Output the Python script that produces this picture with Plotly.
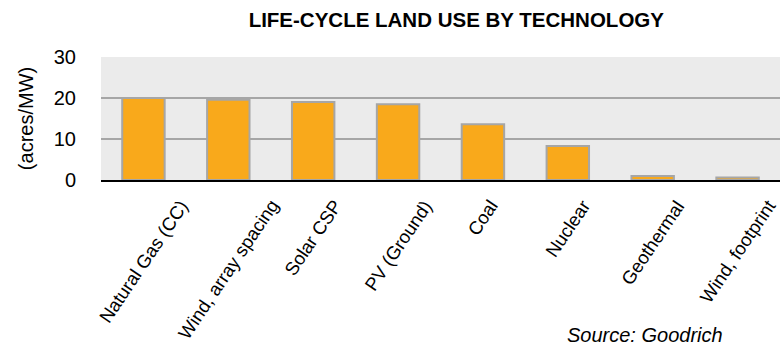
import plotly.graph_objects as go

# Life-cycle land use per technology (acres/MW)
technologies = [
    "Natural Gas (CC)", "Wind, array spacing", "Solar CSP", "PV (Ground)",
    "Coal", "Nuclear", "Geothermal", "Wind, footprint",
]
land_use = [20.0, 19.6, 19.0, 18.5, 13.6, 8.3, 1.0, 0.6]
y_ticks = [0, 10, 20, 30]

FONT = "Liberation Sans"

fig = go.Figure(
    go.Bar(
        x=technologies,
        y=land_use,
        width=0.5,
        marker=dict(color="#F9A91B", line=dict(color="#A6A6A6", width=2)),
    )
)

# Category labels: slanted text centred under each bar
category_labels = [
    dict(
        text=name, x=name, xref="x", y=-0.11, yref="paper",
        xanchor="center", yanchor="top", textangle=-56,
        showarrow=False, font=dict(size=18.5, family=FONT, color="black"),
    )
    for name in technologies
]

fig.update_layout(
    width=780,
    height=349,
    margin=dict(l=101, r=0, t=57, b=169),
    paper_bgcolor="white",
    plot_bgcolor="#EBEBEB",
    showlegend=False,
    font=dict(family=FONT, color="black"),
    title=dict(
        text="<b>LIFE-CYCLE LAND USE BY TECHNOLOGY</b>",
        x=0.585, xanchor="center", y=0.943, yanchor="middle",
        font=dict(size=20.5, family=FONT, color="black"),
    ),
    annotations=category_labels + [
        dict(
            text="<i>Source: Goodrich</i>", xref="paper", yref="paper",
            x=0.801, y=-1.26, xanchor="center", yanchor="middle",
            showarrow=False, font=dict(size=20, family=FONT, color="black"),
        )
    ],
)

fig.update_yaxes(
    range=[0, 30],
    tickvals=y_ticks,
    showgrid=True, gridcolor="#A6A6A6", gridwidth=1.5,
    zeroline=False,
    automargin=False,
    tickfont=dict(size=20, family=FONT),
    ticklabelstandoff=24,
    title=dict(text="(acres/MW)", font=dict(size=20, family=FONT), standoff=14),
)
fig.update_xaxes(
    range=[-0.5, len(technologies) - 0.5],
    showline=True, linecolor="black", linewidth=2,
    automargin=False,
    showticklabels=False,
    showgrid=False,
)

fig.write_html("out.html")
